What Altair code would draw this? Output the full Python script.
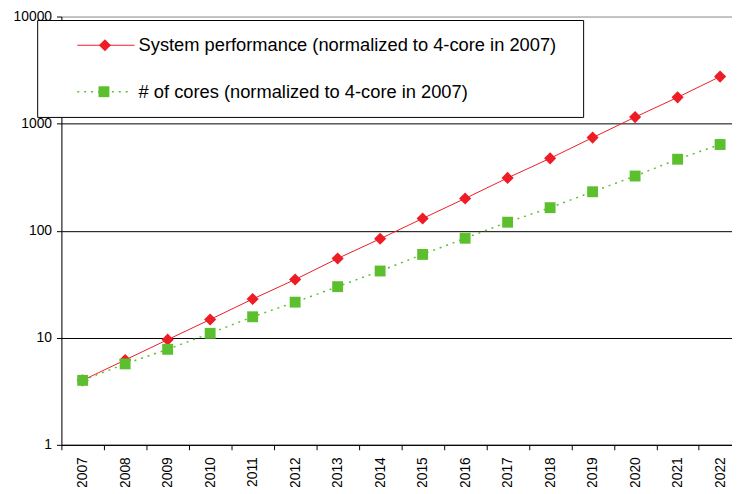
import altair as alt
import pandas as pd

years = list(range(2007, 2023))
perf = [4, 6.2, 9.6, 14.8, 23, 35, 55, 84, 130, 200, 311, 474, 740, 1150, 1760, 2750]
cores = [4, 5.7, 7.8, 11, 15.7, 21.5, 30, 42, 60, 85, 120, 164, 231, 324, 465, 638]
y_ticks = [1, 10, 100, 1000, 10000]
labels = ["System performance (normalized to 4-core in 2007)",
          "# of cores (normalized to 4-core in 2007)"]
boundaries = [y - 0.5 for y in years]

RED = "#EE1C25"
GREEN = "#5CBF2E"
FONT = "Liberation Sans"

df = pd.DataFrame({"year": years, "perf": perf, "cores": cores})
one = pd.DataFrame({"k": [0]})

xscale = alt.Scale(domain=[2006.5, 2022.28], nice=False, zero=False)
yscale = alt.Scale(type="log", domain=[1, 10000], nice=False)

xaxis = alt.Axis(values=boundaries, labelExpr="format(datum.value + 0.5, 'd')",
                 labelAngle=270, labelOffset=21.5, labelFlush=False, labelOverlap=False,
                 grid=False, tickSize=5, tickColor="black", domainColor="black",
                 labelPadding=7, labelFontSize=14, labelColor="black", labelFont=FONT,
                 title=None)
yaxis = alt.Axis(values=y_ticks, format="d", grid=True,
                 gridColor={"condition": {"test": "datum.value === 10000", "value": "#999999"},
                            "value": "black"},
                 tickSize=5, tickColor="black", domainColor="black",
                 labelPadding=5, labelFontSize=14, labelColor="black", labelFont=FONT,
                 labelFlush=False, title=None)

def xenc():
    return alt.X("year:Q", scale=xscale, axis=xaxis)

base = alt.Chart(df)

perf_line = base.mark_line(color=RED, strokeWidth=1).encode(
    x=xenc(), y=alt.Y("perf:Q", scale=yscale, axis=yaxis))
perf_pts = base.mark_point(shape="diamond", filled=True, color=RED, size=150, opacity=1).encode(
    x=xenc(), y=alt.Y("perf:Q", scale=yscale, axis=yaxis))
core_line = base.mark_line(color=GREEN, strokeWidth=1.5, strokeDash=[2, 5]).encode(
    x=xenc(), y=alt.Y("cores:Q", scale=yscale, axis=yaxis))
core_pts = base.mark_point(shape="square", filled=True, color=GREEN, size=121, opacity=1).encode(
    x=xenc(), y=alt.Y("cores:Q", scale=yscale, axis=yaxis))

lg = alt.Chart(one)
box = lg.mark_rect(fill="white", stroke="black", strokeWidth=1).encode(
    x=alt.value(-24), x2=alt.value(528), y=alt.value(4), y2=alt.value(102))
l1 = lg.mark_rule(color=RED, strokeWidth=1).encode(
    x=alt.value(16), x2=alt.value(74), y=alt.value(29))
p1 = lg.mark_point(shape="diamond", filled=True, color=RED, size=150, opacity=1).encode(
    x=alt.value(44), y=alt.value(29))
t1 = lg.mark_text(align="left", baseline="middle", fontSize=18.5, font=FONT, color="black").encode(
    x=alt.value(78), y=alt.value(29), text=alt.value(labels[0]))
l2 = lg.mark_rule(color=GREEN, strokeWidth=1.5, strokeDash=[2, 5]).encode(
    x=alt.value(16), x2=alt.value(70), y=alt.value(76))
p2 = lg.mark_point(shape="square", filled=True, color=GREEN, size=121, opacity=1).encode(
    x=alt.value(43), y=alt.value(76))
t2 = lg.mark_text(align="left", baseline="middle", fontSize=18.5, font=FONT, color="black").encode(
    x=alt.value(78), y=alt.value(76), text=alt.value(labels[1]))

chart = alt.layer(perf_line, core_line, perf_pts, core_pts, box, l1, l2, p1, p2, t1, t2).properties(
    width=678, height=433,
    autosize=alt.AutoSizeParams(type="none"),
    padding={"left": 54, "top": 6, "right": 0, "bottom": 40},
).configure_view(stroke=None).configure(background="white")

chart.save("out.html", embed_options={"renderer": "svg", "actions": False})
